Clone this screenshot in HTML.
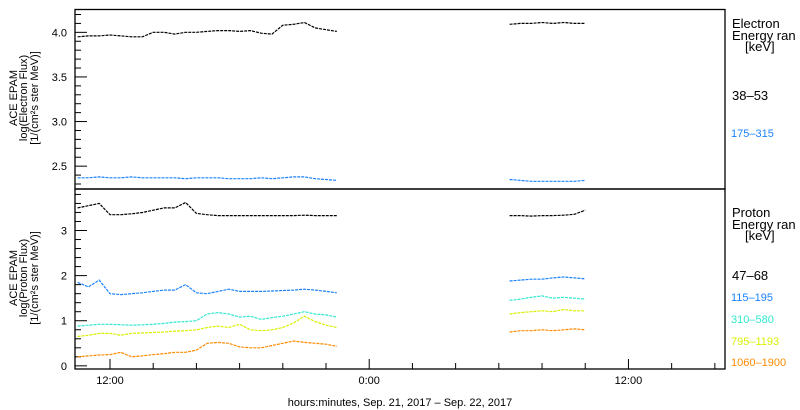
<!DOCTYPE html>
<html><head><meta charset="utf-8"><style>
body{margin:0;background:#fff;}
svg{display:block;font-family:"Liberation Sans",sans-serif;}
</style></head><body>
<svg id="chart" width="800" height="410" viewBox="0 0 800 410" xmlns="http://www.w3.org/2000/svg">
<g id="axes"></g>
<g id="series"></g>
<g font-size="13">
<text x="732" y="28">Electron</text>
<text x="732" y="40">Energy ran</text>
<text x="745" y="51">[keV]</text>
<text x="732" y="100" fill="#000">38–53</text>
<text x="731" y="137" font-size="11" fill="#1a82ff">175–315</text>
</g>
<g font-size="13">
<text x="732" y="217">Proton</text>
<text x="732" y="229">Energy ran</text>
<text x="745" y="240">[keV]</text>
<text x="732" y="280">47–68</text>
<text x="731" y="301" font-size="11" fill="#1a82ff">115–195</text>
<text x="731" y="323" font-size="11" fill="#30e8d0">310–580</text>
<text x="731" y="345" font-size="11" fill="#d8f000">795–1193</text>
<text x="731" y="366" font-size="11" fill="#ff8a00">1060–1900</text>
</g>
<g font-size="11" text-anchor="middle">
<text transform="translate(17,98) rotate(-90)">ACE EPAM</text>
<text transform="translate(27,98) rotate(-90)">log(Electron Flux)</text>
<text transform="translate(38,98) rotate(-90)">[1/(cm²s ster MeV)]</text>
</g>
<g font-size="11" text-anchor="middle">
<text transform="translate(17,278) rotate(-90)">ACE EPAM</text>
<text transform="translate(27,278) rotate(-90)">log(Proton Flux)</text>
<text transform="translate(38,278) rotate(-90)">[1/(cm²s ster MeV)]</text>
</g>
<text x="400" y="406" font-size="11" text-anchor="middle">hours:minutes, Sep. 21, 2017 – Sep. 22, 2017</text>
</svg>
<script>
// hours since Sep 21 00:00
const seg1Hours = [10.5,11,11.5,12,12.5,13,13.5,14,14.5,15,15.5,16,16.5,17,17.5,18,18.5,19,19.5,20,20.5,21,21.5,22,22.5];
const seg2Hours = [30.5,31,31.5,32,32.5,33,33.5,34];
const e38_1 = [3.95,3.96,3.96,3.97,3.96,3.95,3.95,4.0,4.0,3.98,4.0,4.0,4.01,4.02,4.02,4.01,4.02,3.99,3.98,4.08,4.09,4.11,4.05,4.03,4.01];
const e38_2 = [4.09,4.1,4.1,4.11,4.1,4.11,4.1,4.1];
const e175_1 = [2.37,2.37,2.38,2.37,2.37,2.38,2.37,2.37,2.37,2.37,2.36,2.37,2.37,2.37,2.36,2.36,2.36,2.37,2.36,2.37,2.38,2.38,2.36,2.35,2.34];
const e175_2 = [2.35,2.34,2.33,2.33,2.33,2.33,2.33,2.34];
const p47_1 = [3.5,3.55,3.6,3.35,3.35,3.37,3.4,3.45,3.5,3.5,3.62,3.38,3.35,3.33,3.33,3.33,3.33,3.33,3.33,3.33,3.33,3.34,3.33,3.33,3.33];
const p47_2 = [3.33,3.33,3.32,3.33,3.33,3.34,3.36,3.45];
const p115_1 = [1.85,1.75,1.9,1.6,1.58,1.6,1.62,1.65,1.68,1.68,1.8,1.62,1.6,1.65,1.7,1.65,1.65,1.65,1.66,1.67,1.68,1.7,1.68,1.65,1.62];
const p115_2 = [1.88,1.9,1.92,1.92,1.95,1.97,1.95,1.93];
const p310_1 = [0.88,0.9,0.92,0.92,0.91,0.9,0.91,0.92,0.94,0.97,0.98,1.0,1.15,1.18,1.15,1.08,1.1,1.03,1.07,1.1,1.15,1.2,1.15,1.13,1.08];
const p310_2 = [1.45,1.48,1.52,1.55,1.5,1.52,1.5,1.48];
const p795_1 = [0.65,0.68,0.72,0.72,0.68,0.72,0.73,0.74,0.75,0.77,0.78,0.8,0.85,0.88,0.85,0.92,0.8,0.78,0.8,0.85,0.95,1.1,0.98,0.9,0.85];
const p795_2 = [1.15,1.18,1.2,1.22,1.2,1.25,1.22,1.22];
const p1060_1 = [0.2,0.22,0.24,0.25,0.3,0.2,0.22,0.25,0.27,0.3,0.3,0.35,0.5,0.52,0.5,0.42,0.4,0.4,0.45,0.5,0.55,0.52,0.5,0.48,0.43];
const p1060_2 = [0.75,0.78,0.78,0.8,0.78,0.8,0.82,0.8];
const xTickLabels = ["12:00","0:00","12:00"];
const xTickHours = [12,24,36];

const NS="http://www.w3.org/2000/svg";
const X0=75,X1=725,H0=10.38,H1=40.47;
const x=h=>X0+(h-H0)/(H1-H0)*(X1-X0);
const T={top:9.5,bot:189,min:2.244,max:4.256};
const B={top:189,bot:369,min:-0.07,max:3.92};
const y=(p,v)=>p.bot-(v-p.min)/(p.max-p.min)*(p.bot-p.top);
const axes=document.getElementById('axes'),ser=document.getElementById('series');
function mk(tag,attrs,parent){const e=document.createElementNS(NS,tag);for(const k in attrs)e.setAttribute(k,attrs[k]);parent.appendChild(e);return e;}

let r=mk('rect',{x:X0,y:T.top,width:X1-X0,height:T.bot-T.top,fill:'none',stroke:'#000','stroke-width':1.3},axes);


r=mk('rect',{x:X0,y:B.top,width:X1-X0,height:B.bot-B.top,fill:'none',stroke:'#000','stroke-width':1.3},axes);



// y ticks top
for(let i=23;i<=42;i++){const v=i/10;const yy=y(T,v);if(yy<T.top||yy>T.bot)continue;
 const maj=i%5===0;
 const l=mk('line',{x1:X0,x2:X0+(maj?12:6),y1:yy,y2:yy,stroke:'#000'},axes);
 
 
 if(maj){const t=mk('text',{x:X0-8,y:yy+4,'font-size':11,'text-anchor':'end'},axes);t.textContent=v.toFixed(1);
 
 }}
for(let i=0;i<=19;i++){const v=i/5;const yy=y(B,v);if(yy<B.top||yy>B.bot)continue;
 const maj=i%5===0;
 const l=mk('line',{x1:X0,x2:X0+(maj?12:6),y1:yy,y2:yy,stroke:'#000'},axes);
 
 
 if(maj){const t=mk('text',{x:X0-8,y:yy+4,'font-size':11,'text-anchor':'end'},axes);t.textContent=String(v);
 
 }}
// x ticks
for(let h=12;h<=40;h+=2){const xx=x(h);const maj=h%12===0;
 const l=mk('line',{x1:xx,x2:xx,y1:B.bot,y2:B.bot-(maj?10:6),stroke:'#000'},axes);
 
 }
xTickHours.forEach((h,i)=>{const t=mk('text',{x:x(h),y:384,'font-size':11,'text-anchor':'middle'},axes);t.textContent=xTickLabels[i];
 
 });

function draw(p,hours,vals,color,name){
 const pts=hours.map((h,i)=>x(h).toFixed(1)+','+y(p,vals[i]).toFixed(1)).join(' ');
 const pl=mk('polyline',{points:pts,fill:'none',stroke:color,'stroke-width':1.2,'stroke-dasharray':'3 1'},ser);
 
 
}
draw(T,seg1Hours,e38_1,'#000','series-e38-53-a');draw(T,seg2Hours,e38_2,'#000','series-e38-53-b');
draw(T,seg1Hours,e175_1,'#1a82ff','series-e175-315-a');draw(T,seg2Hours,e175_2,'#1a82ff','series-e175-315-b');
draw(B,seg1Hours,p47_1,'#000','series-p47-68-a');draw(B,seg2Hours,p47_2,'#000','series-p47-68-b');
draw(B,seg1Hours,p115_1,'#1a82ff','series-p115-195-a');draw(B,seg2Hours,p115_2,'#1a82ff','series-p115-195-b');
draw(B,seg1Hours,p310_1,'#30e8d0','series-p310-580-a');draw(B,seg2Hours,p310_2,'#30e8d0','series-p310-580-b');
draw(B,seg1Hours,p795_1,'#d8f000','series-p795-1193-a');draw(B,seg2Hours,p795_2,'#d8f000','series-p795-1193-b');
draw(B,seg1Hours,p1060_1,'#ff8a00','series-p1060-1900-a');draw(B,seg2Hours,p1060_2,'#ff8a00','series-p1060-1900-b');
</script>
</body></html>
